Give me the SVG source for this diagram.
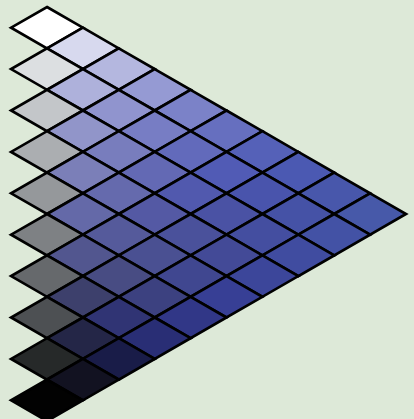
<svg xmlns="http://www.w3.org/2000/svg" width="414" height="419" viewBox="0 0 414 419">
<style>
.c{stroke:#000;stroke-width:2.7;stroke-linejoin:miter}
</style>
<defs>
<path id="cell" d="M0,0 l35.9,20.7 l-35.9,20.7 l-35.9,-20.7 z"/>
</defs>
<rect width="414" height="419" fill="#dde9d8"/>
<g id="cells">
<g id="c0-0"><use href="#cell" class="c" x="47" y="7" fill="#ffffff"/></g>
<g id="c1-0"><use href="#cell" class="c" x="82.9" y="27.7" fill="#d7d9ee"/></g>
<g id="c2-0"><use href="#cell" class="c" x="118.8" y="48.4" fill="#b4b7df"/></g>
<g id="c3-0"><use href="#cell" class="c" x="154.7" y="69.1" fill="#959ad3"/></g>
<g id="c4-0"><use href="#cell" class="c" x="190.6" y="89.8" fill="#7b82c8"/></g>
<g id="c5-0"><use href="#cell" class="c" x="226.5" y="110.5" fill="#666fbf"/></g>
<g id="c6-0"><use href="#cell" class="c" x="262.4" y="131.2" fill="#5561b8"/></g>
<g id="c7-0"><use href="#cell" class="c" x="298.3" y="151.9" fill="#4b59b2"/></g>
<g id="c8-0"><use href="#cell" class="c" x="334.2" y="172.6" fill="#4857ab"/></g>
<g id="c9-0"><use href="#cell" class="c" x="370.1" y="193.3" fill="#4759a9"/></g>

<g id="c1-1"><use href="#cell" class="c" x="47" y="48.4" fill="#dcdfe1"/></g>
<g id="c2-1"><use href="#cell" class="c" x="82.9" y="69.1" fill="#aeb1db"/></g>
<g id="c3-1"><use href="#cell" class="c" x="118.8" y="89.8" fill="#9094ce"/></g>
<g id="c4-1"><use href="#cell" class="c" x="154.7" y="110.5" fill="#777dc4"/></g>
<g id="c5-1"><use href="#cell" class="c" x="190.6" y="131.2" fill="#626abb"/></g>
<g id="c6-1"><use href="#cell" class="c" x="226.5" y="151.9" fill="#515bb5"/></g>
<g id="c7-1"><use href="#cell" class="c" x="262.4" y="172.6" fill="#4954ac"/></g>
<g id="c8-1"><use href="#cell" class="c" x="298.3" y="193.3" fill="#4552a6"/></g>
<g id="c9-1"><use href="#cell" class="c" x="334.2" y="214" fill="#4352a5"/></g>

<g id="c2-2"><use href="#cell" class="c" x="47" y="89.8" fill="#c3c6c9"/></g>
<g id="c3-2"><use href="#cell" class="c" x="82.9" y="110.5" fill="#9195c9"/></g>
<g id="c4-2"><use href="#cell" class="c" x="118.8" y="131.2" fill="#787dbd"/></g>
<g id="c5-2"><use href="#cell" class="c" x="154.7" y="151.9" fill="#6369b4"/></g>
<g id="c6-2"><use href="#cell" class="c" x="190.6" y="172.6" fill="#5159ae"/></g>
<g id="c7-2"><use href="#cell" class="c" x="226.5" y="193.3" fill="#4a52a4"/></g>
<g id="c8-2"><use href="#cell" class="c" x="262.4" y="214" fill="#444ea0"/></g>
<g id="c9-2"><use href="#cell" class="c" x="298.3" y="234.7" fill="#404ca0"/></g>

<g id="c3-3"><use href="#cell" class="c" x="47" y="131.2" fill="#abaeb1"/></g>
<g id="c4-3"><use href="#cell" class="c" x="82.9" y="151.9" fill="#7b7fb8"/></g>
<g id="c5-3"><use href="#cell" class="c" x="118.8" y="172.6" fill="#656aad"/></g>
<g id="c6-3"><use href="#cell" class="c" x="154.7" y="193.3" fill="#5459a4"/></g>
<g id="c7-3"><use href="#cell" class="c" x="190.6" y="214" fill="#4a519b"/></g>
<g id="c8-3"><use href="#cell" class="c" x="226.5" y="234.7" fill="#434a97"/></g>
<g id="c9-3"><use href="#cell" class="c" x="262.4" y="255.4" fill="#3c469a"/></g>

<g id="c4-4"><use href="#cell" class="c" x="47" y="172.6" fill="#95989b"/></g>
<g id="c5-4"><use href="#cell" class="c" x="82.9" y="193.3" fill="#6469a8"/></g>
<g id="c6-4"><use href="#cell" class="c" x="118.8" y="214" fill="#555a9b"/></g>
<g id="c7-4"><use href="#cell" class="c" x="154.7" y="234.7" fill="#4a5092"/></g>
<g id="c8-4"><use href="#cell" class="c" x="190.6" y="255.4" fill="#404790"/></g>
<g id="c9-4"><use href="#cell" class="c" x="226.5" y="276.1" fill="#373f95"/></g>

<g id="c5-5"><use href="#cell" class="c" x="47" y="214" fill="#7e8184"/></g>
<g id="c6-5"><use href="#cell" class="c" x="82.9" y="234.7" fill="#52568f"/></g>
<g id="c7-5"><use href="#cell" class="c" x="118.8" y="255.4" fill="#484c83"/></g>
<g id="c8-5"><use href="#cell" class="c" x="154.7" y="276.1" fill="#3c4180"/></g>
<g id="c9-5"><use href="#cell" class="c" x="190.6" y="296.8" fill="#313787"/></g>

<g id="c6-6"><use href="#cell" class="c" x="47" y="255.4" fill="#66696c"/></g>
<g id="c7-6"><use href="#cell" class="c" x="82.9" y="276.1" fill="#3d406c"/></g>
<g id="c8-6"><use href="#cell" class="c" x="118.8" y="296.8" fill="#303474"/></g>
<g id="c9-6"><use href="#cell" class="c" x="154.7" y="317.5" fill="#292e75"/></g>

<g id="c7-7"><use href="#cell" class="c" x="47" y="296.8" fill="#4d5053"/></g>
<g id="c8-7"><use href="#cell" class="c" x="82.9" y="317.5" fill="#242647"/></g>
<g id="c9-7"><use href="#cell" class="c" x="118.8" y="338.2" fill="#191c48"/></g>

<g id="c8-8"><use href="#cell" class="c" x="47" y="338.2" fill="#262929"/></g>
<g id="c9-8"><use href="#cell" class="c" x="82.9" y="358.9" fill="#121221"/></g>

<g id="c9-9"><use href="#cell" class="c" x="47" y="379.6" fill="#020202"/></g>
</g>
<g id="connectors"/>
</svg>
